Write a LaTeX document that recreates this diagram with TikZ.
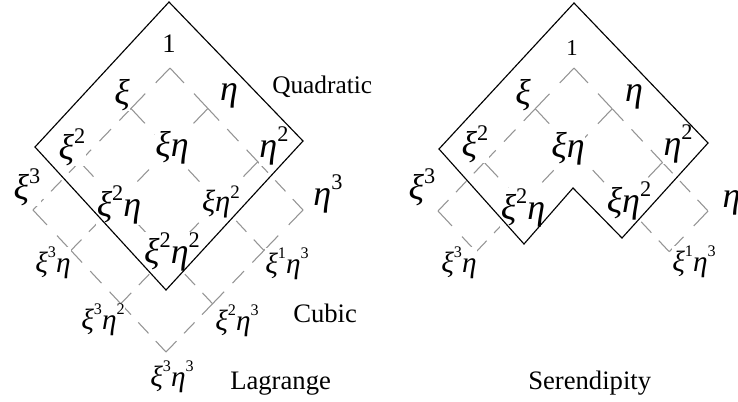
\documentclass[tikz,border=0pt]{standalone}
\usepackage{fontspec}
\setmainfont{Liberation Serif}
\newcommand\supx[1]{\raisebox{0.45em}{\upshape\scalebox{0.62}{#1}}}
\newcommand\supy[1]{\raisebox{0.5em}{\upshape\scalebox{0.55}{#1}}}
\newcommand\gseg[3]{%
  \pgfmathsetmacro\seglen{0.75*(#3)}%
  \pgfmathsetmacro\segn{max(1,round((\seglen+9)/21.5))}%
  \pgfmathsetmacro\segs{\seglen/(\segn*12.5+(\segn-1)*9)}%
  \pgfmathsetmacro\segon{12.5*\segs}%
  \pgfmathsetmacro\segoff{9*\segs}%
  \draw[gridline,dash pattern=on \segon pt off \segoff pt] (#1) -- (#2);}
\begin{document}
\begin{tikzpicture}[x=0.75pt,y=-0.75pt,
  gridline/.style={draw=black!42,line width=0.8pt},
  outline/.style={draw=black,line width=0.85pt,line join=miter},
  lbig/.style={font=\fontsize{27}{27}\selectfont\itshape,inner sep=0.3pt,fill=white},
  lmid/.style={font=\fontsize{23}{23}\selectfont\itshape,inner sep=0.3pt,fill=white},
  lsmall/.style={font=\fontsize{22}{22}\selectfont\itshape,inner sep=0.3pt,fill=white},
  lone/.style={font=\fontsize{20}{20}\selectfont,inner sep=0.5pt},
  title/.style={font=\fontsize{20}{21}\selectfont,inner sep=0pt,anchor=base west},
]
\useasboundingbox (0,0) rectangle (738,401);
\clip (0,0) rectangle (738,401);
% grid points
\foreach \i/\a in {0/0,1/0.285,2/0.66,3/1}{
  \foreach \j/\b in {0/0,1/0.285,2/0.66,3/1}{
    \coordinate (A\i\j) at ({170-137*\a+133*\b},{68+142*(\a+\b)});
    \coordinate (B\i\j) at ({574-136*\a+134*\b},{68+143*(\a+\b)});
  }}
% Lagrange grid (left)
\foreach \i/\ni/\da in {0/1/0.285,1/2/0.375,2/3/0.34}{
  \foreach \j in {0,1,2,3}{\gseg{A\i\j}{A\ni\j}{\da*197.3}}}
\foreach \j/\nj/\db in {0/1/0.285,1/2/0.375,2/3/0.34}{
  \foreach \i in {0,1,2,3}{\gseg{A\i\j}{A\i\nj}{\db*194.6}}}
% Serendipity grid (right)
\foreach \i/\ni/\da in {0/1/0.285,1/2/0.375,2/3/0.34}{
  \foreach \j in {0,1}{\gseg{B\i\j}{B\ni\j}{\da*197.3}}}
\gseg{B02}{B12}{0.285*197.3}
\gseg{B03}{B13}{0.285*197.3}
\foreach \j/\nj/\db in {0/1/0.285,1/2/0.375,2/3/0.34}{
  \foreach \i in {0,1}{\gseg{B\i\j}{B\i\nj}{\db*194.6}}}
\gseg{B20}{B21}{0.285*194.6}
\gseg{B30}{B31}{0.285*194.6}
% left labels
\node[lone] (a1) at (169,44) {1};
\node[lbig] (axi) at (122,95) {ξ};
\node[lbig] (aeta) at (229,96) {η};
\node[lbig] (axi2) at (72,147) {ξ\supx{2}};
\node[lbig] (axieta) at (172,148) {ξη};
\node[lbig] (aeta2) at (274,146) {η\supx{2}};
\node[lbig] (axi3) at (27,187) {ξ\supx{3}};
\node[lbig] (axi2eta) at (119,205) {ξ\supx{2}η};
\node[lmid] (axieta2) at (221,202) {ξη\supx{2}};
\node[lbig] (aeta3) at (328,194) {η\supx{3}};
\node[lsmall] (axi3eta) at (53,263) {ξ\supy{3}η};
\node[lbig] (axi2eta2) at (172,252) {ξ\supx{2}η\supx{2}};
\node[lsmall] (axi1eta3) at (287,264) {ξ\supy{1}η\supy{3}};
\node[lsmall] (axi3eta2) at (103,320) {ξ\supy{3}η\supy{2}};
\node[lsmall] (axi2eta3) at (237,321) {ξ\supy{2}η\supy{3}};
\node[lsmall] (axi3eta3) at (172,377) {ξ\supy{3}η\supy{3}};
% right labels
\node[lone,font=\fontsize{17}{17}\selectfont] (b1) at (572,48) {1};
\node[lbig] (bxi) at (523,95) {ξ};
\node[lbig] (beta) at (634,97) {η};
\node[lbig] (bxi2) at (475,144) {ξ\supx{2}};
\node[lbig] (bxieta) at (568,149) {ξη};
\node[lbig] (beta2) at (678,144) {η\supx{2}};
\node[lbig] (bxi3) at (422,187) {ξ\supx{3}};
\node[lbig] (bxi2eta) at (523,208) {ξ\supx{2}η};
\node[lbig] (bxieta2) at (629,201) {ξη\supx{2}};
\node[lbig] (beta3) at (737,196) {η\supx{3}};
\node[lsmall] (bxi3eta) at (459,263) {ξ\supy{3}η};
\node[lsmall] (bxi1eta3) at (694,262) {ξ\supy{1}η\supy{3}};
% titles
\node[title,font=\fontsize{19}{20}\selectfont] (tq) at (272,93) {Quadratic};
\node[title] (tc) at (293,322) {Cubic};
\node[title] (tl) at (230,389) {Lagrange};
\node[title] (ts) at (528,389) {Serendipity};
% solid outlines
\coordinate (P1) at (169,2);
\coordinate (P2) at (35,147);
\coordinate (P3) at (166,290);
\coordinate (P4) at (303,141);
\draw[outline] (P1) -- (P2) -- (P3) -- (P4) -- cycle;
\coordinate (Q1) at (574,3);
\coordinate (Q2) at (439,149);
\coordinate (Q3) at (524,244);
\coordinate (Q4) at (573,188);
\coordinate (Q5) at (622,238);
\coordinate (Q6) at (708,143);
\draw[outline] (Q1) -- (Q2) -- (Q3) -- (Q4) -- (Q5) -- (Q6) -- cycle;
\end{tikzpicture}
\end{document}
